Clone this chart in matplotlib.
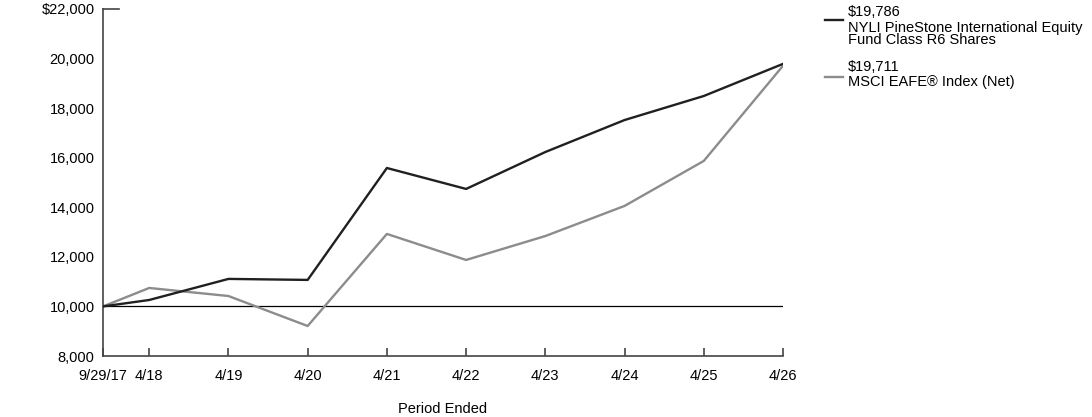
import matplotlib.pyplot as plt
from matplotlib.ticker import FuncFormatter

plt.rcParams['font.family'] = ['Liberation Sans', 'DejaVu Sans']

# x positions in years from 9/29/17 (first April is 7 months later)
periods = ['9/29/17', '4/18', '4/19', '4/20', '4/21', '4/22', '4/23', '4/24', '4/25', '4/26']
x_pos = [0, 7/12, 1 + 7/12, 2 + 7/12, 3 + 7/12, 4 + 7/12, 5 + 7/12, 6 + 7/12, 7 + 7/12, 8 + 7/12]

fund = [10000, 10260, 11110, 11070, 15585, 14740, 16230, 17520, 18490, 19786]
index = [10000, 10745, 10420, 9210, 12925, 11875, 12840, 14055, 15870, 19711]

fund_name = 'NYLI PineStone International Equity\nFund Class R6 Shares'
index_name = 'MSCI EAFE\u00ae Index (Net)'

fs = 10.5
fig = plt.figure(figsize=(10.92, 4.17), dpi=100)
ax = fig.add_axes([103/1092, 1 - 356/417, 680/1092, 347/417])

ax.plot(x_pos, fund, color='#231f20', lw=1.7, zorder=3)
ax.plot(x_pos, index, color='#8c8c8c', lw=1.7, zorder=2)
ax.axhline(10000, color='black', lw=0.9, zorder=1)
# short stub at the top of the y axis
ax.plot([0, 0.2], [22000, 22000], color='#444444', lw=1.2, clip_on=False)

ax.set_xlim(0, x_pos[-1])
ax.set_ylim(8000, 22000)
ax.set_xticks(x_pos)
ax.set_xticklabels(periods)
ax.set_yticks(range(8000, 22001, 2000))
ax.yaxis.set_major_formatter(FuncFormatter(lambda v, p: f'${v:,.0f}' if v == 22000 else f'{v:,.0f}'))

for s in ['top', 'right']:
    ax.spines[s].set_visible(False)
for s in ['left', 'bottom']:
    ax.spines[s].set_color('#444444')
    ax.spines[s].set_linewidth(1.2)
ax.tick_params(axis='x', direction='in', length=6, color='#444444', width=1.2, labelsize=fs, pad=9)
ax.tick_params(axis='y', length=0, labelsize=fs, pad=6)
ax.set_xlabel('Period Ended', fontsize=fs, labelpad=14)

# legend at right
tx = 848/1092
fig.text(tx, 1 - 12/417, '$19,786', fontsize=fs, va='center')
fig.text(tx, 1 - 34/417, fund_name, fontsize=fs, va='center', linespacing=0.9)
fig.add_artist(plt.Line2D([825/1092, 843/1092], [1 - 20/417, 1 - 20/417], color='#231f20', lw=1.7))
fig.text(tx, 1 - 67/417, '$19,711', fontsize=fs, va='center')
fig.text(tx, 1 - 82/417, index_name, fontsize=fs, va='center')
fig.add_artist(plt.Line2D([825/1092, 843/1092], [1 - 77/417, 1 - 77/417], color='#8c8c8c', lw=1.7))

fig.savefig('out.png', dpi=100)
